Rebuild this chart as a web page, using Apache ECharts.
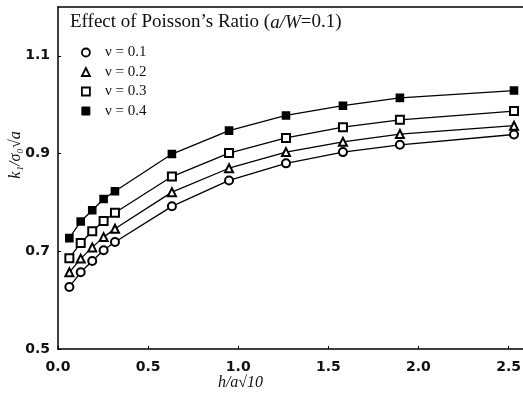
<!DOCTYPE html>
<html>
<head>
<meta charset="utf-8">
<script src="https://cdn.jsdelivr.net/npm/echarts@6/dist/echarts.min.js"></script>
<style>
  html, body { margin: 0; padding: 0; background: #fff; }
  #chart { width: 523px; height: 403px; }
</style>
</head>
<body>
<div id="chart"></div>
<script>
// h/a values divided by sqrt(10)
var xVals = [0.063, 0.126, 0.190, 0.253, 0.316, 0.632, 0.949, 1.265, 1.581, 1.897, 2.530];
var nu01 = [0.627, 0.657, 0.680, 0.702, 0.719, 0.792, 0.845, 0.880, 0.903, 0.918, 0.939];
var nu02 = [0.657, 0.685, 0.708, 0.729, 0.746, 0.821, 0.870, 0.903, 0.924, 0.940, 0.957];
var nu03 = [0.686, 0.717, 0.741, 0.762, 0.779, 0.853, 0.901, 0.932, 0.954, 0.969, 0.987];
var nu04 = [0.727, 0.761, 0.784, 0.807, 0.823, 0.899, 0.947, 0.978, 0.998, 1.014, 1.029];
var seriesNames = ['\u03bd = 0.1', '\u03bd = 0.2', '\u03bd = 0.3', '\u03bd = 0.4'];
var xTicks = [0.0, 0.5, 1.0, 1.5, 2.0, 2.5];
var yTicks = [0.5, 0.7, 0.9, 1.1];

var chart = echarts.init(document.getElementById('chart'));

function pairs(ys) {
    var out = [];
    for (var i = 0; i < xVals.length; i++) {
        out.push([xVals[i], ys[i]]);
    }
    return out;
}

var symbols = ['emptyCircle', 'emptyTriangle', 'emptyRect', 'rect'];
var legendIcons = ['circle', 'triangle', 'rect', 'rect'];
var allData = [nu01, nu02, nu03, nu04];

var series = [];
var legendData = [];
for (var k = 0; k < allData.length; k++) {
    series.push({
        name: seriesNames[k],
        type: 'line',
        data: pairs(allData[k]),
        symbol: symbols[k],
        symbolSize: k == 3 ? 7 : 8,
        showAllSymbol: true,
        lineStyle: { color: '#000', width: 1.3 },
        itemStyle: { color: '#000', borderColor: '#000', borderWidth: 1.6 },
        emphasis: { disabled: true },
        z: 3
    });
    legendData.push({
        name: seriesNames[k],
        icon: legendIcons[k],
        itemStyle: k == 3
            ? { color: '#000', borderColor: '#000', borderWidth: 1 }
            : { color: '#fff', borderColor: '#000', borderWidth: 1.8 }
    });
}

var option = {
    backgroundColor: '#fff',
    animation: false,
    title: {
        left: 70,
        top: 13,
        padding: 0,
        text: '{n|Effect of Poisson\u2019s Ratio (}{i|a/W}{n|=0.1)}',
        textStyle: {
            fontWeight: 'normal',
            rich: {
                n: { fontFamily: 'Liberation Serif', fontWeight: 'normal', fontSize: 19, color: '#111' },
                i: { fontFamily: 'Liberation Serif', fontWeight: 'normal', fontStyle: 'italic', fontSize: 19, color: '#111' }
            }
        }
    },
    legend: {
        orient: 'vertical',
        left: 81,
        top: 45,
        padding: 0,
        itemWidth: 8,
        itemHeight: 8,
        itemGap: 4.5,
        data: legendData,
        textStyle: { fontFamily: 'Liberation Serif', fontSize: 15, color: '#111', padding: [0, 0, 0, 10] }
    },
    grid: { left: 58, right: 0, top: 7, bottom: 54, outerBoundsMode: 'none', containLabel: false },
    xAxis: [{
        type: 'value',
        min: 0,
        max: 2.58,
        name: 'h/a\u221a10',
        nameLocation: 'middle',
        nameGap: 26,
        nameMoveOverlap: false,
        nameTextStyle: { fontFamily: 'Liberation Serif', fontStyle: 'italic', fontSize: 16, color: '#111', padding: [0, 100, 0, 0] },
        axisLine: { lineStyle: { color: '#000', width: 1.5 } },
        axisTick: { inside: true, length: 3, customValues: xTicks, lineStyle: { color: '#000' } },
        axisLabel: {
            customValues: xTicks,
            margin: 11,
            fontFamily: 'DejaVu Sans',
            fontWeight: 'bold',
            fontSize: 14,
            color: '#111',
            formatter: function (v) { return v.toFixed(1); }
        },
        splitLine: { show: false }
    }, {
        type: 'value',
        position: 'top',
        min: 0,
        max: 2.58,
        axisLine: { show: true, lineStyle: { color: '#000', width: 1.5 } },
        axisTick: { show: false },
        axisLabel: { show: false },
        splitLine: { show: false }
    }],
    yAxis: {
        type: 'value',
        min: 0.5,
        max: 1.2,
        name: 'k\u2081/\u03c3\u2080\u221aa',
        nameLocation: 'middle',
        nameGap: 34,
        nameMoveOverlap: false,
        nameTextStyle: { fontFamily: 'Liberation Serif', fontStyle: 'italic', fontSize: 16, color: '#111', padding: [0, 0, 0, 46] },
        axisLine: { show: true, lineStyle: { color: '#000', width: 1.5 } },
        axisTick: { show: true, inside: true, length: 3, customValues: yTicks, lineStyle: { color: '#000' } },
        axisLabel: {
            customValues: yTicks,
            margin: 8,
            fontFamily: 'DejaVu Sans',
            fontWeight: 'bold',
            fontSize: 14,
            color: '#111',
            formatter: function (v) { return v.toFixed(1); }
        },
        splitLine: { show: false }
    },
    series: series
};

chart.setOption(option);
</script>
</body>
</html>
